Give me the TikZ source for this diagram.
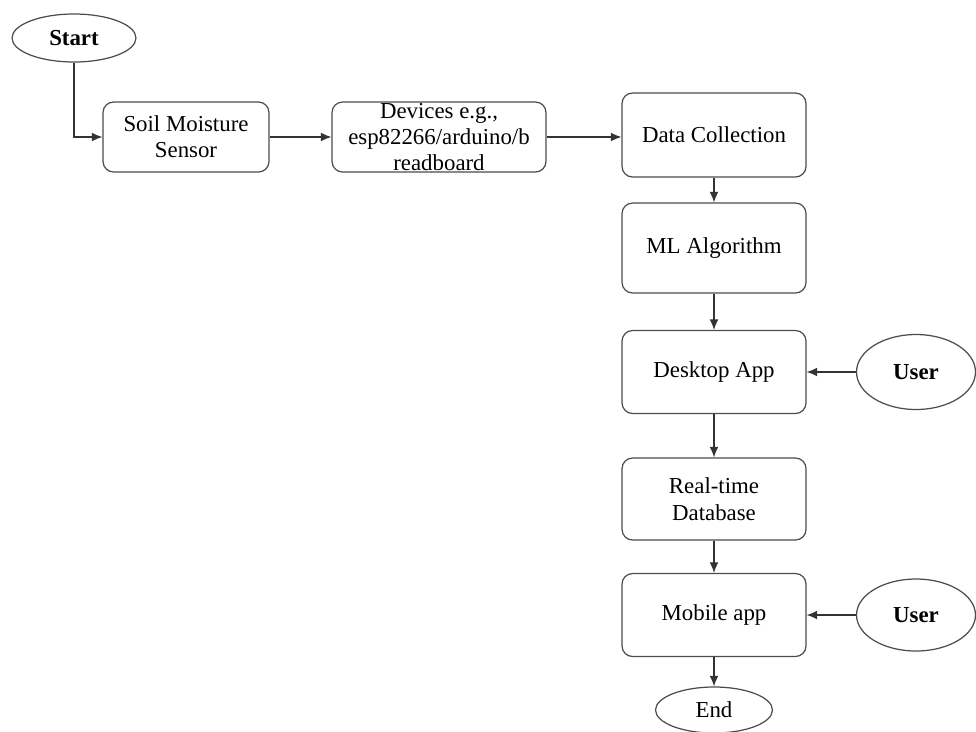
\documentclass[tikz,border=0pt]{standalone}
\usepackage{fontspec}
\setmainfont{Liberation Serif}
\usetikzlibrary{shapes.geometric,arrows.meta}

\tikzset{
  box/.style={draw=black!70, rounded corners=6pt, line width=0.7pt, align=center, font=\fontsize{13}{15}\selectfont},
  term/.style={draw=black!70, ellipse, line width=0.7pt, inner sep=0pt, font=\fontsize{13}{15}\selectfont},
  flow/.style={-{Latex[length=6pt,width=5pt]}, draw=black!80, line width=0.7pt}
}

\begin{document}
\begin{tikzpicture}[x=0.02cm, y=-0.02cm]
\useasboundingbox (0,0) rectangle (976,731);

% Start und Sensoren
\node[term, minimum width=2.48cm, minimum height=0.96cm] (start) at (74,38) {\textbf{Start}};
\node[box, minimum width=3.32cm, minimum height=1.4cm] (soil) at (186,137) {Soil Moisture\\Sensor};
\node[box, minimum width=4.28cm, minimum height=1.4cm] (dev) at (439,137) {};
\node[align=center, font=\fontsize{13}{14.8}\selectfont, inner sep=0pt] (devtext) at (439,137) {Devices e.g.,\\esp82266/arduino/b\\readboard};

% Hauptspalte
\node[box, minimum width=3.68cm, minimum height=1.68cm] (dc) at (714,135) {Data Collection};
\node[box, minimum width=3.68cm, minimum height=1.8cm] (ml) at (714,248) {ML Algorithm};
\node[box, minimum width=3.68cm, minimum height=1.66cm] (desk) at (714,372) {Desktop App};
\node[box, minimum width=3.68cm, minimum height=1.64cm] (rt) at (714,499) {Real-time\\Database};
\node[box, minimum width=3.68cm, minimum height=1.66cm] (mob) at (714,615) {Mobile app};
\node[term, minimum width=2.34cm, minimum height=0.92cm] (end) at (714,710) {End};

% Benutzer
\node[term, minimum width=2.38cm, minimum height=1.5cm] (user1) at (916,372) {\textbf{User}};
\node[term, minimum width=2.38cm, minimum height=1.44cm] (user2) at (916,615) {\textbf{User}};

% Pfeile
\draw[flow] (start.south) |- (soil.west);
\draw[flow] (soil.east) -- (dev.west);
\draw[flow] (dev.east) -- (dev.east -| dc.west);
\draw[flow] (dc) -- (ml);
\draw[flow] (ml) -- (desk);
\draw[flow] (desk) -- (rt);
\draw[flow] (rt) -- (mob);
\draw[flow] (mob) -- (end);
\draw[flow] (user1) -- (desk);
\draw[flow] (user2) -- (mob);
\end{tikzpicture}
\end{document}
